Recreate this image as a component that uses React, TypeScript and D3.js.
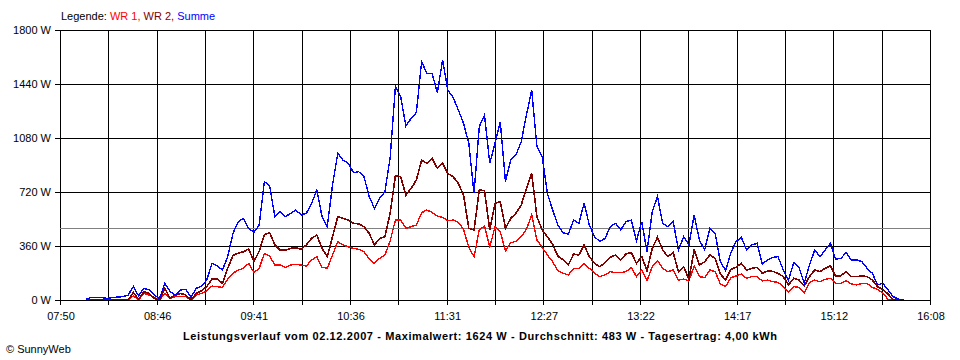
import React from "react";
import * as d3 from "d3";

// Sampling grid of the readings: 08:05, every 3 minutes (minutes since midnight)
const START_MIN = 8 * 60 + 5;
const STEP_MIN = 3;

// WR 1 (W)
const wr1 = [
  0, 0, 0, 0, 0, 0, 0, 0, 0, 27,
  0, 44, 33, 18, 0, 44, 11, 22, 22, 22,
  0, 33, 44, 62, 93, 89, 84, 140, 178, 200,
  211, 244, 183, 211, 311, 293, 233, 233, 216, 233,
  238, 233, 227, 267, 289, 218, 211, 300, 389, 367,
  355, 344, 338, 322, 273, 244, 278, 300, 395, 533,
  533, 478, 489, 500, 582, 600, 584, 560, 551, 529,
  533, 518, 471, 351, 289, 467, 493, 351, 489, 456,
  327, 382, 391, 422, 471, 567, 400, 351, 300, 255,
  196, 178, 167, 211, 209, 244, 211, 178, 156, 167,
  189, 182, 182, 189, 216, 156, 200, 129, 222, 262,
  211, 189, 200, 133, 140, 127, 227, 156, 149, 200,
  189, 107, 89, 149, 160, 173, 144, 156, 156, 127,
  133, 122, 118, 89, 56, 89, 84, 49, 116, 133,
  122, 138, 144, 111, 111, 129, 107, 100, 111, 111,
  84, 71, 44, 5, 0, 0, 0,
];

// WR 2 (W)
const wr2 = [
  0, 0, 0, 0, 0, 0, 0, 0, 0, 50,
  5, 56, 44, 11, 0, 78, 11, 33, 44, 33,
  0, 44, 62, 89, 140, 142, 111, 211, 298, 311,
  322, 340, 258, 325, 435, 450, 367, 333, 333, 344,
  349, 338, 367, 411, 433, 344, 289, 422, 555, 544,
  533, 511, 507, 489, 444, 367, 411, 422, 580, 830,
  822, 700, 744, 800, 933, 911, 944, 878, 911, 844,
  822, 778, 700, 478, 467, 733, 729, 467, 644, 655,
  478, 544, 578, 633, 744, 844, 555, 467, 422, 370,
  293, 267, 233, 307, 300, 367, 289, 244, 222, 249,
  284, 300, 267, 307, 316, 244, 289, 195, 344, 418,
  333, 289, 316, 189, 222, 138, 333, 233, 255, 300,
  278, 173, 133, 204, 218, 244, 200, 211, 218, 178,
  193, 191, 178, 156, 100, 144, 133, 93, 156, 200,
  189, 211, 229, 160, 162, 189, 156, 156, 160, 156,
  133, 89, 69, 40, 0, 0, 0,
];

// Summe (W)
const summe = [
  5, 18, 18, 16, 11, 16, 20, 22, 33, 89,
  27, 78, 67, 33, 11, 111, 56, 33, 67, 71,
  18, 78, 93, 133, 244, 227, 200, 289, 444, 522,
  544, 478, 450, 500, 790, 760, 555, 589, 555, 578,
  600, 567, 578, 644, 733, 555, 490, 767, 978, 933,
  911, 849, 855, 822, 689, 611, 678, 722, 950, 1422,
  1355, 1160, 1211, 1250, 1589, 1511, 1511, 1382, 1600, 1400,
  1351, 1267, 1178, 1044, 711, 1155, 1233, 911, 1044, 1189,
  789, 933, 967, 1055, 1233, 1400, 1022, 955, 711, 600,
  500, 448, 440, 533, 511, 644, 500, 422, 389, 411,
  489, 511, 467, 522, 533, 396, 522, 322, 589, 689,
  511, 489, 522, 333, 422, 367, 567, 400, 333, 478,
  445, 255, 196, 316, 389, 418, 333, 367, 378, 240,
  267, 284, 289, 200, 133, 249, 218, 111, 233, 333,
  289, 333, 378, 271, 278, 316, 267, 267, 256, 211,
  178, 100, 111, 67, 22, 5, 0,
];

const yTicks = [0, 360, 720, 1080, 1440, 1800];
const xTickLabels = ["07:50", "08:46", "09:41", "10:36", "11:31", "12:27", "13:22", "14:17", "15:12", "16:08"];
const X_START = 7 * 60 + 50;
const X_END = 16 * 60 + 8;
const AVERAGE = 483;
const legendParts = [
  { text: "Legende: ", color: "#000000" },
  { text: "WR 1, ", color: "#ff0000" },
  { text: "WR 2, ", color: "#800000" },
  { text: "Summe", color: "#0000ff" },
];
const TITLE = "Leistungsverlauf vom 02.12.2007 - Maximalwert: 1624 W - Durchschnitt: 483 W - Tagesertrag: 4,00 kWh";
const COPYRIGHT = "© SunnyWeb";

const series = [
  { name: "WR 1", values: wr1, color: "#ff0000", width: 1.4 },
  { name: "WR 2", values: wr2, color: "#800000", width: 1.6 },
  { name: "Summe", values: summe, color: "#0000ff", width: 1.4 },
];

export default function App() {
  const W = 960;
  const H = 360;
  const left = 60, right = 930, top = 30, bottom = 300;
  const x = d3.scaleLinear().domain([X_START, X_END]).range([left, right]);
  const y = d3.scaleLinear().domain([0, 1800]).range([bottom, top]);
  const nGrid = (xTickLabels.length - 1) * 2;
  const gridMins = d3.range(nGrid + 1).map((i) => X_START + (i * (X_END - X_START)) / nGrid);
  const line = d3
    .line<number>()
    .x((_, i) => x(START_MIN + i * STEP_MIN))
    .y((d) => y(d));
  const font = "'Liberation Sans', Arial, sans-serif";
  const r = (v: number) => Math.round(v) + 0.5;

  return (
    <svg
      width={W}
      height={H}
      style={{ position: "absolute", left: 0, top: 0, display: "block", background: "#fff" }}
      fontFamily={font}
      fontSize={11}
    >
      <rect x={0} y={0} width={W} height={H} fill="#fff" />
      {/* vertical grid */}
      {gridMins.map((m, i) => (
        <line key={"v" + i} x1={r(x(m))} x2={r(x(m))} y1={top} y2={bottom + 5} stroke="#000" shapeRendering="crispEdges" />
      ))}
      {/* horizontal grid */}
      {yTicks.map((t) =>
        t === 0 ? null : (
          <line key={"h" + t} x1={left - 5} x2={right} y1={r(y(t))} y2={r(y(t))} stroke="#000" shapeRendering="crispEdges" />
        )
      )}
      {/* average line */}
      <line x1={left} x2={right} y1={r(y(AVERAGE))} y2={r(y(AVERAGE))} stroke="#808080" shapeRendering="crispEdges" />
      {/* data */}
      {series.map((s) => (
        <path
          key={s.name}
          d={line(s.values) || ""}
          fill="none"
          stroke={s.color}
          strokeWidth={s.width}
          strokeLinejoin="miter"
          shapeRendering="crispEdges"
        />
      ))}
      {/* x axis */}
      <line x1={left - 5} x2={right} y1={r(y(0))} y2={r(y(0))} stroke="#000" shapeRendering="crispEdges" />
      {/* y labels */}
      {yTicks.map((t) => (
        <text key={"yl" + t} x={51} y={y(t) + 4} textAnchor="end" fill="#000">
          {t + " W"}
        </text>
      ))}
      {/* x labels */}
      {xTickLabels.map((lab, i) => (
        <text key={"xl" + i} x={x(gridMins[i * 2]) + 1} y={320} textAnchor="middle" fill="#000">
          {lab}
        </text>
      ))}
      {/* legend */}
      <text x={61} y={20}>
        {legendParts.map((p, i) => (
          <tspan key={i} fill={p.color}>
            {p.text}
          </tspan>
        ))}
      </text>
      {/* title */}
      <text x={480} y={340} textAnchor="middle" fontWeight="bold" fill="#000" textLength={594} lengthAdjust="spacing">
        {TITLE}
      </text>
      <text x={6} y={353} fill="#000">
        {COPYRIGHT}
      </text>
    </svg>
  );
}
